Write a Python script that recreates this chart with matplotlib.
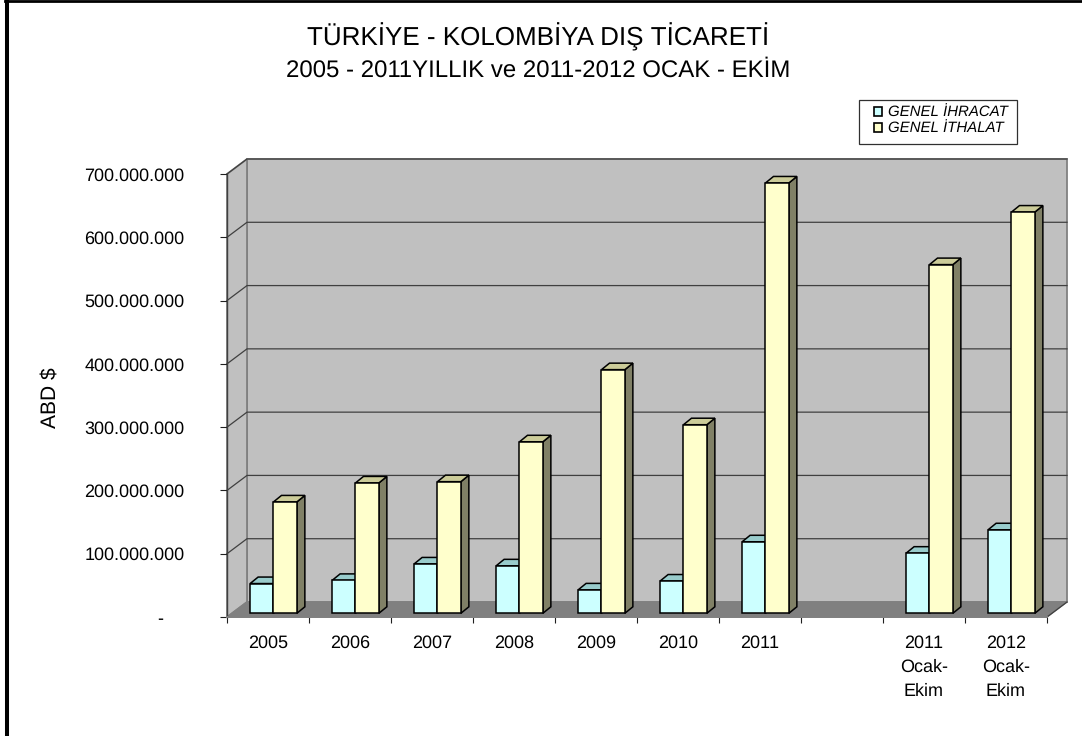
import matplotlib
matplotlib.use("Agg")
import matplotlib.pyplot as plt
from matplotlib.patches import Polygon, Patch, Rectangle
from matplotlib.lines import Line2D
from matplotlib.transforms import Affine2D, IdentityTransform

categories = ['2005', '2006', '2007', '2008', '2009', '2010', '2011', '',
              '2011\nOcak-\nEkim', '2012\nOcak-\nEkim']
ihracat = [47e6, 52e6, 78e6, 75e6, 37e6, 51e6, 113e6, None, 95e6, 132e6]
ithalat = [176e6, 206e6, 208e6, 271e6, 385e6, 298e6, 680e6, None, 551e6, 634e6]
yticks = [0, 100e6, 200e6, 300e6, 400e6, 500e6, 600e6, 700e6]
ytick_labels = ['-    ', '100.000.000', '200.000.000', '300.000.000', '400.000.000',
                '500.000.000', '600.000.000', '700.000.000']
title_line1 = 'TÜRKİYE - KOLOMBİYA DIŞ TİCARETİ'
title_line2 = '2005 - 2011YILLIK ve 2011-2012 OCAK - EKİM'
series_names = ['GENEL İHRACAT', 'GENEL İTHALAT']

W, H = 1082, 736
plt.rcParams['font.family'] = ['Liberation Sans', 'DejaVu Sans']
plt.rcParams['text.hinting'] = 'no_hinting'
plt.rcParams['text.hinting_factor'] = 1
fig = plt.figure(figsize=(W / 100, H / 100), dpi=100, facecolor='white')
L, R, T, B = 227, 1047, 174, 617
ax = fig.add_axes([L / W, 1 - B / H, (R - L) / W, (B - T) / H])
ax.patch.set_visible(False)
ax.set_xlim(0, 10)
ax.set_ylim(0, 700e6)
for s in ax.spines.values():
    s.set_visible(False)

WALL_D = (20, 15)
BAR_D0 = (5, 3.7)
BAR_DD = (8, 6.5)


def pt(x, y, d=(0, 0)):
    X, Y = ax.transData.transform((x, y))
    return (X + d[0], Y + d[1])


def poly(points, fc, ec, lw, z):
    ax.add_patch(Polygon(points, closed=True, facecolor=fc, edgecolor=ec, linewidth=lw,
                         transform=IdentityTransform(), clip_on=False, zorder=z,
                         joinstyle='miter'))


ymax = yticks[-1]
GR = '#808080'
# back wall, left wall, floor
poly([pt(0, 0, WALL_D), pt(10, 0, WALL_D), pt(10, ymax, WALL_D), pt(0, ymax, WALL_D)], '#C0C0C0', GR, 1.3, 1)
poly([pt(0, 0), pt(0, 0, WALL_D), pt(0, ymax, WALL_D), pt(0, ymax)], '#C0C0C0', GR, 1.3, 1.1)
poly([pt(0, 0), pt(10, 0), pt(10, 0, WALL_D), pt(0, 0, WALL_D)], GR, GR, 1.0, 1.2)

# grid lines on walls
for v in yticks[1:]:
    a, b, c = pt(0, v), pt(0, v, WALL_D), pt(10, v, WALL_D)
    ax.add_line(Line2D([a[0], b[0], c[0]], [a[1], b[1], c[1]], color='#404040', lw=0.9,
                       transform=IdentityTransform(), clip_on=False, zorder=1.5))
# left and right edges
ax.add_line(Line2D(*zip(pt(0, 0), pt(0, ymax)), color='#404040', lw=1.0,
                   transform=IdentityTransform(), clip_on=False, zorder=1.6))
ax.add_line(Line2D(*zip(pt(10, 0), pt(10, 0, WALL_D)), color='#404040', lw=0.9,
                   transform=IdentityTransform(), clip_on=False, zorder=1.6))
ax.add_line(Line2D(*zip(pt(0, 0), pt(10, 0)), color=GR, lw=1.4,
                   transform=IdentityTransform(), clip_on=False, zorder=1.6))

# bars
front = ax.transData + Affine2D().translate(*BAR_D0)
w = 0.285
styles = [('#CCFFFF', '#99CCCC', '#669999', -w / 2),
          ('#FFFFCC', '#CCCC99', '#808066', w / 2)]
for vals, (fc, top, side, off) in zip([ihracat, ithalat], styles):
    for i, v in enumerate(vals):
        if v is None:
            continue
        x0, x1 = i + 0.506 + off - w / 2, i + 0.506 + off + w / 2
        d1 = (BAR_D0[0] + BAR_DD[0], BAR_D0[1] + BAR_DD[1])
        poly([pt(x1, 0, BAR_D0), pt(x1, 0, d1), pt(x1, v, d1), pt(x1, v, BAR_D0)], side, 'black', 1.1, 3)
        poly([pt(x0, v, BAR_D0), pt(x1, v, BAR_D0), pt(x1, v, d1), pt(x0, v, d1)], top, 'black', 1.1, 3)
    xs = [i + 0.506 + off for i, v in enumerate(vals) if v is not None]
    hs = [v for v in vals if v is not None]
    ax.bar(xs, hs, width=w, color=fc, edgecolor='black', linewidth=1.1, transform=front,
           clip_on=False, zorder=3.2)

ax.set_xlim(0, 10)
ax.set_ylim(0, ymax)

# ticks
ax.set_yticks(yticks)
ax.set_yticklabels(ytick_labels, fontsize=13, color='black')
ax.tick_params(axis='y', length=5.2, width=0.8, color='#202020', pad=25.5)
ax.set_xticks(range(11))
ax.set_xticklabels([''] * 11)
ax.tick_params(axis='x', length=4.5, width=0.8, color='#202020')
for i, c in enumerate(categories):
    if c:
        ax.annotate(c, xy=(i + 0.5, 0), xytext=(0, -18), xycoords=('data', 'data'),
                    textcoords='offset pixels', ha='center', va='top', fontsize=13.2,
                    linespacing=1.55, annotation_clip=False)

fig.text(51 / W, 1 - 398 / H, 'ABD $', rotation=90, fontsize=15, ha='center', va='center')
fig.text(538.5 / W, 1 - 37 / H, title_line1, fontsize=18.4, ha='center', va='center')
fig.text(538.5 / W, 1 - 71 / H, title_line2, fontsize=17.4, ha='center', va='center')

# legend
fig.add_artist(Rectangle((859 / W, 1 - 143.5 / H), 158 / W, 43.5 / H, facecolor='white',
                         edgecolor='#303030', linewidth=0.9, transform=fig.transFigure, zorder=4))
handles = [Patch(facecolor='#CCFFFF', edgecolor='black', linewidth=1.2),
           Patch(facecolor='#FFFFCC', edgecolor='black', linewidth=1.2)]
leg = fig.legend(handles, series_names, loc='upper left', bbox_to_anchor=(873.5 / W, 1 - 105.5 / H),
                 bbox_transform=fig.transFigure, frameon=False,
                 prop={'style': 'italic', 'size': 10.6}, handlelength=0.55, handleheight=0.55,
                 handletextpad=0.44, labelspacing=0.15, borderaxespad=0, borderpad=0)
leg.set_zorder(5)

# outer border
fig.add_artist(Line2D([7 / W, 7 / W], [0, 1], color='black', lw=2.9, transform=fig.transFigure))
fig.add_artist(Line2D([5 / W, 1], [1 - 1.2 / H, 1 - 1.2 / H], color='black', lw=2.0, transform=fig.transFigure))

fig.savefig('out.png', dpi=100)
